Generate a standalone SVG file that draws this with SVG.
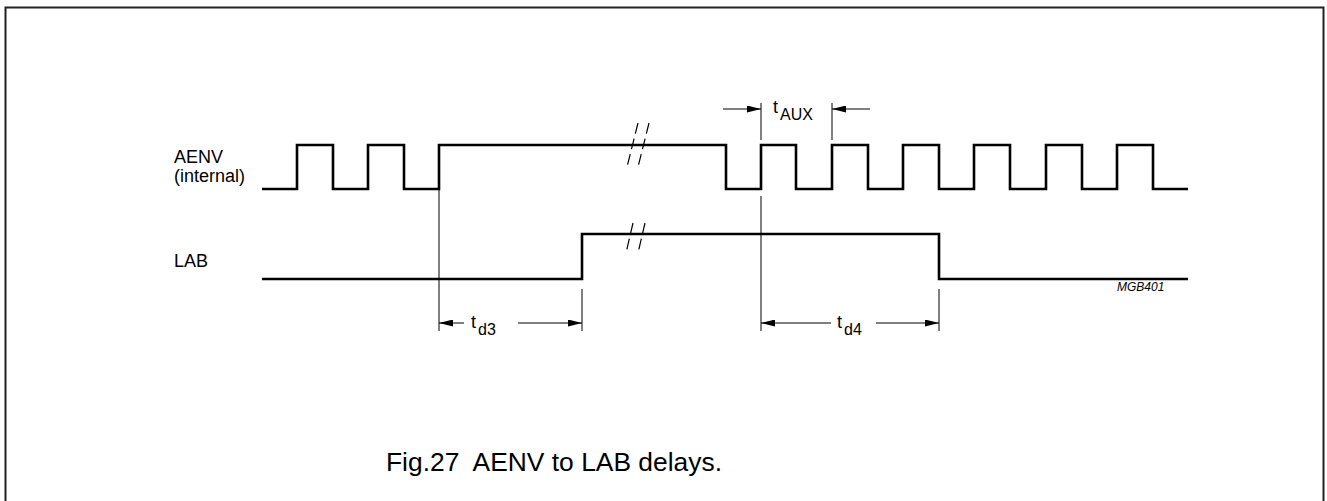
<svg xmlns="http://www.w3.org/2000/svg" width="1327" height="501" viewBox="0 0 1327 501">
<style>
.sig{fill:none;stroke:#000;stroke-width:2.6;stroke-linejoin:miter}
.thin{fill:none;stroke:#000;stroke-width:1}
.brk{fill:none;stroke:#000;stroke-width:1.2;stroke-dasharray:11 5}
.lbl{font-family:"Liberation Sans",Arial,sans-serif;font-size:18px;fill:#000}
.sub{font-family:"Liberation Sans",Arial,sans-serif;font-size:16px;fill:#000}
.code{font-family:"Liberation Sans",Arial,sans-serif;font-size:12px;font-style:italic;fill:#000}
.cap{font-family:"Liberation Sans",Arial,sans-serif;font-size:25px;fill:#000;white-space:pre}
</style>
<defs>
<marker id="ah" viewBox="0 0 16 8" refX="16" refY="4" markerWidth="16" markerHeight="7" markerUnits="userSpaceOnUse" orient="auto">
<path d="M0,0 L16,4 L0,8 Z" fill="#000"/>
</marker>
</defs>
<rect x="5.5" y="7.5" width="1318" height="520" fill="#fff" stroke="#222" stroke-width="2"/>

<g id="aenv-label">
<text class="lbl" x="174" y="163">AENV</text>
<text class="lbl" x="174" y="182">(internal)</text>
</g>
<g id="lab-label">
<text class="lbl" x="174" y="267">LAB</text>
</g>

<g id="aenv-signal">
<path class="sig" d="M262,189 H297 V145 H333 V189 H368 V145 H404 V189 H439 V145 H726 V189 H761 V145 H796 V189 H832 V145 H868 V189 H903 V145 H939 V189 H974 V145 H1010 V189 H1046 V145 H1082 V189 H1117 V145 H1153 V189 H1188"/>
<line class="brk" x1="638" y1="123" x2="627" y2="167"/>
<line class="brk" x1="649" y1="123" x2="638" y2="167"/>
</g>

<g id="lab-signal">
<path class="sig" d="M262,279 H582 V234 H939 V279 H1188"/>
<line class="brk" x1="633" y1="223" x2="626" y2="253"/>
<line class="brk" x1="645" y1="223" x2="638" y2="253"/>
</g>

<g id="connectors">
<line class="thin" x1="439" y1="189" x2="439" y2="331"/>
<line class="thin" x1="582" y1="289" x2="582" y2="331"/>
<line class="thin" x1="761" y1="196" x2="761" y2="331"/>
<line class="thin" x1="939" y1="289" x2="939" y2="331"/>
<line class="thin" x1="761" y1="103" x2="761" y2="140"/>
<line class="thin" x1="832" y1="103" x2="832" y2="140"/>
<line class="thin" x1="723" y1="109" x2="761" y2="109" marker-end="url(#ah)"/>
<line class="thin" x1="870" y1="109" x2="832" y2="109" marker-end="url(#ah)"/>
<line class="thin" x1="464" y1="323" x2="439" y2="323" marker-end="url(#ah)"/>
<line class="thin" x1="518" y1="323" x2="582" y2="323" marker-end="url(#ah)"/>
<line class="thin" x1="831" y1="323" x2="761" y2="323" marker-end="url(#ah)"/>
<line class="thin" x1="876" y1="323" x2="939" y2="323" marker-end="url(#ah)"/>
</g>

<g id="t-aux">
<text class="lbl" x="773" y="113">t</text>
<text class="sub" x="780" y="120">AUX</text>
</g>
<g id="t-d3">
<text class="lbl" x="471" y="328">t</text>
<text class="sub" x="478" y="335">d3</text>
</g>
<g id="t-d4">
<text class="lbl" x="837" y="328">t</text>
<text class="sub" x="844" y="335">d4</text>
</g>
<g id="code">
<text class="code" x="1117" y="291">MGB401</text>
</g>
<g id="caption">
<text class="cap" x="386" y="471" textLength="336" lengthAdjust="spacingAndGlyphs" xml:space="preserve">Fig.27  AENV to LAB delays.</text>
</g>
</svg>
